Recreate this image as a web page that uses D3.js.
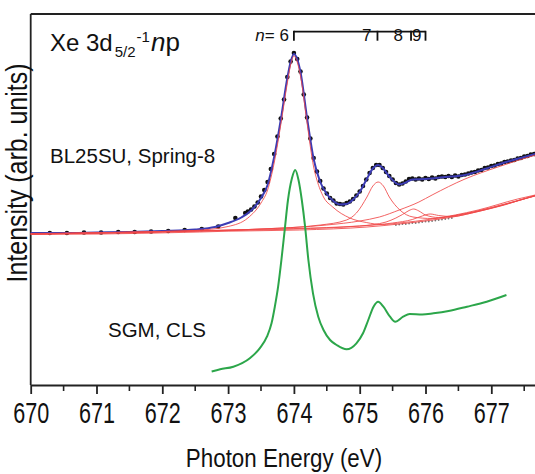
<!DOCTYPE html>
<html>
<head>
<meta charset="utf-8">
<script src="https://cdn.jsdelivr.net/npm/d3@7"></script>
<style>
  body { margin: 0; background: #fff; }
  svg { display: block; }
  text { font-family: "Liberation Sans", Arial, sans-serif; fill: #111; }
</style>
</head>
<body>
<svg id="chart" width="535" height="474"></svg>
<script>
// x ticks (photon energy, eV)
const xTicks = [670, 671, 672, 673, 674, 675, 676, 677]
const xMinor = [670.5, 671.5, 672.5, 673.5, 674.5, 675.5, 676.5, 677.5]

// Rydberg series labels
const seriesN = ['6', '7', '8', '9']
const seriesE = [674.0, 675.27, 675.78, 676.0]

// BL25SU, Spring-8 measured points (black dots)
const dotE = [670.29, 670.55, 670.81, 671.07, 671.33, 671.58, 671.83, 672.09, 672.34, 672.60, 672.85, 673.11, 673.26,
  673.30, 673.35, 673.40, 673.45, 673.50, 673.55, 673.60, 673.65, 673.70, 673.75, 673.80, 673.85, 673.90, 673.95,
  674.00, 674.05, 674.10, 674.15, 674.20, 674.25, 674.30, 674.35, 674.40, 674.45, 674.50, 674.55, 674.60, 674.65,
  674.70, 674.75, 674.80, 674.85, 674.90, 674.95, 675.00, 675.05, 675.10, 675.15, 675.20, 675.25, 675.30, 675.35,
  675.40, 675.45, 675.50, 675.55, 675.60, 675.65, 675.70, 675.75, 675.80, 675.85, 675.90, 675.95, 676.00, 676.05,
  676.10, 676.15, 676.20, 676.25, 676.30, 676.35, 676.40, 676.45, 676.50, 676.55, 676.60, 676.65, 676.70, 676.75,
  676.80, 676.85, 676.90, 676.95, 677.00, 677.05, 677.10, 677.15, 677.20, 677.25, 677.30, 677.35, 677.40, 677.45,
  677.50, 677.55, 677.60, 677.65]
const dotI = [152, 152, 152.5, 152.5, 153, 153, 153.5, 154, 155, 156, 158.5, 167, 172,
  173.5, 175.5, 178.5, 182.5, 188.5, 195, 203, 216, 231, 248.5, 266.5, 285.5, 308, 323.5,
  332, 326, 313.5, 290.5, 267.5, 246.5, 227, 213.5, 204, 196.5, 191.5, 187, 184.5, 181.5,
  181, 180.5, 182, 183.5, 186, 189.5, 193.5, 199, 205.5, 212, 217, 220, 220, 217,
  213, 209, 205.5, 202, 200.5, 201.5, 203.5, 206, 206.5, 205.5, 206.5, 205.5, 207, 206,
  207.5, 206.5, 208, 208.5, 208, 209, 208, 209.5, 208.5, 210, 210.5, 211.5, 212.5, 213,
  214.5, 215, 217, 217.5, 219, 219.5, 221, 221.5, 223, 223.5, 224.5, 225, 226.5, 227,
  228.5, 229, 230.5, 231]

// fit (blue line)
const fitE = [670.0, 670.5, 671.0, 671.5, 672.0, 672.5, 672.8, 673.0, 673.2, 673.35, 673.5, 673.6, 673.7, 673.8,
  673.9, 673.95, 674.0, 674.05, 674.1, 674.2, 674.3, 674.4, 674.5, 674.6, 674.7, 674.8, 674.9, 675.0, 675.1,
  675.2, 675.28, 675.35, 675.45, 675.6, 675.7, 675.8, 676.0, 676.3, 676.6, 676.9, 677.2, 677.5, 677.7]
const fitI = [152, 152, 152.5, 153, 154, 155.5, 158, 162, 167.5, 174.5, 187, 200, 228, 265,
  307, 323, 331, 326, 313, 267, 226, 203, 191, 184, 180.5, 181, 185.5, 193, 205,
  216.5, 220, 217, 208.5, 200.5, 202.5, 205.5, 206, 208, 210, 216, 222.5, 228, 231.5]

// fit components (red lines)
const bgE = [670.0, 671.06, 672.57, 673.0, 674.09, 675.11, 675.6, 676.11, 676.5, 676.83, 677.2, 677.44, 677.67]
const bgI = [150.5, 151, 153, 153.8, 155, 158, 161, 165, 169, 174, 180, 185, 189]
const n6E = [670.0, 671.0, 672.0, 672.5, 673.0, 673.3, 673.5, 673.6, 673.7, 673.8, 673.9, 673.95, 674.0, 674.05,
  674.1, 674.2, 674.3, 674.35, 674.45, 674.59, 674.85, 675.1, 675.35, 675.6, 676.1, 676.8, 677.4, 677.7]
const n6I = [151.5, 152, 153, 154.5, 158.5, 167, 182, 195, 222, 260, 302, 320, 329, 323,
  309, 262, 218, 205, 188, 178, 167, 162.5, 160.5, 162, 166, 175, 186, 190.5]
const n7E = [670.0, 672.0, 673.5, 674.4, 674.8, 674.95, 675.11, 675.2, 675.28, 675.36, 675.45, 675.61, 675.81,
  676.1, 676.5, 677.0, 677.7]
const n7I = [151, 153.5, 156, 160, 165, 172, 188, 199, 203, 199, 188, 175, 168, 166.5, 170, 177, 190]
const n8E = [670.0, 672.0, 674.0, 675.0, 675.4, 675.55, 675.65, 675.75, 675.82, 675.9, 676.0, 676.2, 676.5, 677.0, 677.7]
const n8I = [151, 153.5, 156, 159, 163, 167, 170.5, 174.5, 176, 174, 170, 167.5, 170, 177.5, 190]
const n9E = [670.0, 673.0, 675.0, 675.5, 675.8, 675.95, 676.07, 676.2, 676.4, 676.7, 677.2, 677.7]
const n9I = [151, 155, 159, 162, 165.5, 169, 171, 169.5, 168.5, 172, 180.5, 190]
const contE = [670.0, 672.0, 673.5, 674.5, 675.0, 675.3, 675.6, 675.9, 676.1, 676.6, 677.1, 677.4, 677.7]
const contI = [151, 153, 156, 160, 164, 168, 175, 183, 190, 206, 218, 224.5, 230.5]

// background data (grey dots)
const bgDotE = [675.55, 675.6, 675.65, 675.7, 675.75, 675.8, 675.85, 675.9, 675.95, 676.0, 676.05, 676.1, 676.15, 676.2, 676.25, 676.3, 676.35, 676.4]
const bgDotI = [160, 160.5, 161, 161, 161.5, 162, 162, 162.5, 163, 163.5, 163.5, 164, 164.5, 165, 165.5, 166, 166.5, 167]

// SGM, CLS spectrum (green)
const sgmE = [672.75, 672.88, 673.08, 673.33, 673.48, 673.59, 673.66, 673.71, 673.76, 673.81, 673.86, 673.91,
  673.97, 674.02, 674.07, 674.12, 674.17, 674.22, 674.29, 674.37, 674.45, 674.55, 674.65, 674.80, 674.95,
  675.05, 675.13, 675.21, 675.28, 675.36, 675.46, 675.54, 675.66, 675.76, 675.95, 676.12, 676.35, 676.63,
  676.93, 677.23]
const sgmI = [13.5, 15.7, 18.3, 26.7, 36.7, 48.3, 61.7, 78.3, 98.3, 125, 155, 185,
  206.7, 215, 205, 185, 158.3, 125, 91.7, 68.3, 55, 45, 40, 35.7, 41.7,
  51.7, 65, 78.3, 83.3, 78.3, 68.3, 63.3, 68.3, 71, 70.5, 71.7, 74, 78.3,
  83.3, 90]

const zip = (a, b) => a.map((v, i) => [v, b[i]])

const svg = d3.select('#chart')
const x = d3.scaleLinear().domain([670, 677.664]).range([30.7, 535])
const y = d3.scaleLinear().domain([0, 371]).range([385, 14])

const line = d3.line()
  .x(d => x(d[0]))
  .y(d => y(d[1]))
  .curve(d3.curveMonotoneX)

// frame: top and left
svg.append('line')
  .attr('x1', x(670)).attr('x2', 535)
  .attr('y1', y(371)).attr('y2', y(371))
  .attr('stroke', '#222').attr('stroke-width', 1.8)
svg.append('line')
  .attr('x1', x(670)).attr('x2', x(670))
  .attr('y1', y(371)).attr('y2', y(0))
  .attr('stroke', '#222').attr('stroke-width', 1.8)

// x axis
const gx = svg.append('g').attr('transform', `translate(0,${y(0)})`)
gx.call(d3.axisBottom(x).tickValues(xTicks).tickSize(9).tickSizeOuter(0).tickFormat(d3.format('d')))
gx.select('.domain').attr('stroke', '#222').attr('stroke-width', 1.8)
gx.selectAll('.tick line').attr('stroke', '#222').attr('stroke-width', 1.8)
gx.selectAll('.tick text')
  .attr('y', 38).attr('dy', 0)
  .attr('transform', 'scale(0.72,1)')
  .style('font-size', '30px')
  .style('font-family', '"Liberation Sans", Arial, sans-serif')
  .attr('fill', '#111')
gx.selectAll('line.minor')
  .data(xMinor)
  .enter()
  .append('line')
  .attr('class', 'minor')
  .attr('x1', d => x(d)).attr('x2', d => x(d))
  .attr('y1', 0).attr('y2', 6)
  .attr('stroke', '#222').attr('stroke-width', 1.6)

// axis titles
svg.append('text')
  .attr('transform', 'translate(284,467) scale(0.86,1)')
  .attr('text-anchor', 'middle')
  .style('font-size', '26px')
  .text('Photon Energy (eV)')
svg.append('text')
  .attr('transform', 'translate(27,173) rotate(-90) scale(0.86,1)')
  .attr('text-anchor', 'middle')
  .style('font-size', '29px')
  .text('Intensity (arb. units)')

// measured points
svg.append('g')
  .selectAll('circle')
  .data(zip(dotE, dotI))
  .enter()
  .append('circle')
  .attr('cx', d => x(d[0]))
  .attr('cy', d => y(d[1]))
  .attr('r', 2.3)
  .attr('fill', '#111')

svg.append('g')
  .selectAll('circle')
  .data(zip(bgDotE, bgDotI))
  .enter()
  .append('circle')
  .attr('cx', d => x(d[0]))
  .attr('cy', d => y(d[1]))
  .attr('r', 0.9)
  .attr('fill', '#777')

// fit
svg.append('path')
  .attr('d', line(zip(fitE, fitI)))
  .attr('fill', 'none')
  .attr('stroke', '#3c3cb4')
  .attr('stroke-width', 2)

// fit components
const comps = [[bgE, bgI], [contE, contI], [n9E, n9I], [n8E, n8I], [n7E, n7I], [n6E, n6I]]
svg.append('g')
  .selectAll('path')
  .data(comps)
  .enter()
  .append('path')
  .attr('d', d => line(zip(d[0], d[1])))
  .attr('fill', 'none')
  .attr('stroke', '#f04848')
  .attr('stroke-width', 1)
  .attr('opacity', 0.85)

// SGM spectrum
svg.append('path')
  .attr('d', line(zip(sgmE, sgmI)))
  .attr('fill', 'none')
  .attr('stroke', '#2ca64a')
  .attr('stroke-width', 2)

// Rydberg series bracket
const barY = 31.7
const labelGap = [5, 6, 8, 4]
const gb = svg.append('g')
gb.append('line')
  .attr('x1', x(seriesE[0])).attr('x2', x(seriesE[seriesE.length - 1]))
  .attr('y1', barY).attr('y2', barY)
  .attr('stroke', '#111').attr('stroke-width', 1.8)
gb.selectAll('.tk')
  .data(seriesE)
  .enter()
  .append('line')
  .attr('x1', d => x(d)).attr('x2', d => x(d))
  .attr('y1', barY - 0.9).attr('y2', barY + 9)
  .attr('stroke', '#111').attr('stroke-width', 1.8)
gb.selectAll('text')
  .data(seriesN)
  .enter()
  .append('text')
  .attr('x', (d, i) => x(seriesE[i]) - labelGap[i])
  .attr('y', 41)
  .attr('text-anchor', 'end')
  .style('font-size', '17px')
  .each(function (d, i) {
    const t = d3.select(this)
    if (i === 0) {
      t.append('tspan').style('font-style', 'italic').text('n')
      t.append('tspan').text('= ' + d)
    } else {
      t.text(d)
    }
  })

// labels
const title = svg.append('text').attr('x', 50).attr('y', 51).style('font-size', '24px')
title.append('tspan').text('Xe 3d')
title.append('tspan').attr('dx', 2).attr('dy', 6).style('font-size', '15px').text('5/2')
title.append('tspan').attr('dx', 1).attr('dy', -15).style('font-size', '15px').text('-1')
title.append('tspan').attr('dx', 1).attr('dy', 9).style('font-size', '26px').style('font-style', 'italic').text('n')
title.append('tspan').style('font-size', '26px').text('p')

svg.append('text').attr('x', 50).attr('y', 163).style('font-size', '20.5px').text('BL25SU, Spring-8')
svg.append('text').attr('x', 108).attr('y', 337).style('font-size', '20.5px').text('SGM, CLS')
</script>
</body>
</html>
